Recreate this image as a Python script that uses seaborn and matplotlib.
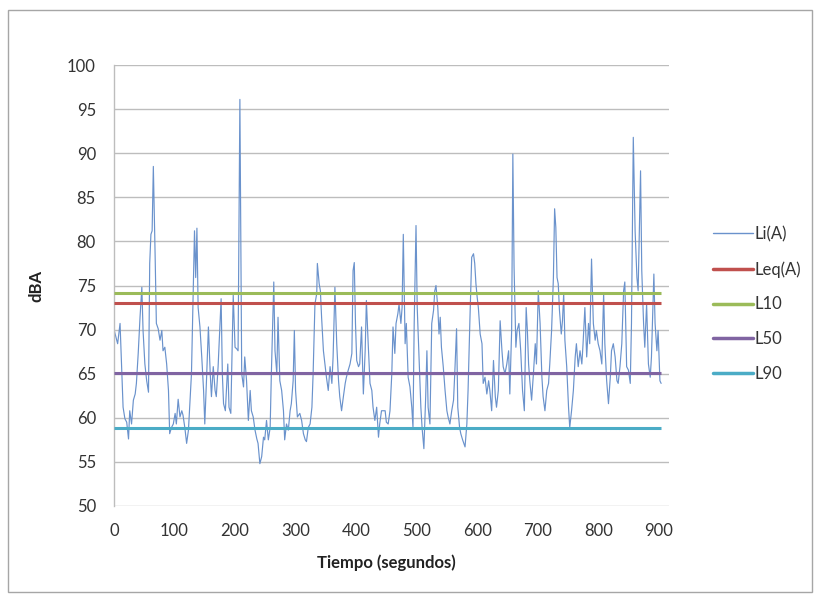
import matplotlib
matplotlib.use("Agg")
import matplotlib.pyplot as plt
import seaborn as sns
import pandas as pd
from matplotlib.lines import Line2D
from matplotlib.patches import Rectangle

# Nivel instantaneo Li(A), vertices (segundos, dBA)
tiempo = [0, 6, 10, 12, 15, 18, 21, 24, 26, 29, 32, 35, 37, 40, 43, 46, 47, 48, 51, 54,
          57, 59, 61, 63, 65, 68, 70, 73, 76, 79, 81, 84, 87, 90, 92, 95, 98, 101, 103, 106,
          109, 112, 114, 117, 120, 123, 125, 128, 131, 133, 135, 137, 139, 142, 145, 148, 150, 153, 156, 159,
          161, 164, 167, 169, 172, 177, 179, 181, 184, 188, 190, 193, 197, 200, 203, 205, 208, 211, 214, 216,
          219, 222, 225, 227, 230, 233, 236, 238, 241, 244, 247, 249, 252, 255, 258, 260, 264, 266, 269, 271,
          274, 277, 280, 282, 285, 288, 291, 293, 296, 298, 300, 303, 307, 310, 313, 316, 318, 321, 324, 327,
          329, 332, 335, 336, 339, 341, 343, 346, 349, 351, 354, 357, 360, 362, 365, 368, 371, 373, 376, 379,
          382, 384, 387, 390, 393, 395, 397, 399, 401, 404, 406, 409, 412, 415, 417, 420, 423, 426, 428, 431,
          434, 437, 439, 442, 448, 450, 453, 456, 459, 461, 464, 466, 469, 471, 474, 476, 478, 481, 483, 486,
          489, 492, 494, 496, 499, 501, 504, 507, 509, 512, 515, 517, 519, 522, 525, 528, 530, 532, 535, 537,
          539, 541, 544, 547, 550, 552, 555, 558, 561, 563, 566, 568, 571, 573, 576, 580, 583, 585, 588, 591,
          594, 596, 598, 600, 602, 605, 608, 610, 613, 616, 619, 621, 624, 627, 630, 632, 635, 638, 641, 643,
          646, 649, 652, 654, 657, 659, 661, 664, 666, 669, 672, 675, 678, 681, 683, 685, 687, 690, 693, 696,
          698, 701, 704, 707, 709, 712, 715, 718, 720, 723, 726, 728, 730, 732, 734, 736, 739, 741, 743, 745,
          748, 751, 753, 756, 759, 762, 764, 767, 770, 773, 775, 778, 781, 784, 786, 789, 792, 795, 797, 800,
          803, 806, 809, 811, 814, 817, 820, 822, 825, 828, 831, 833, 836, 839, 842, 844, 847, 850, 853, 855,
          858, 861, 864, 866, 870, 872, 875, 877, 880, 883, 886, 888, 892, 894, 897, 899, 902, 904]
li_a = [70.0, 68.4, 70.7, 66.9, 61.2, 59.9, 59.5, 57.6, 60.8, 59.3, 62.0, 62.7, 63.9, 67.3, 71.4, 74.8, 72.5, 69.9, 66.1, 64.2,
        62.9, 77.5, 80.8, 81.2, 88.5, 78.2, 70.7, 70.1, 68.8, 69.9, 67.6, 68.0, 66.1, 63.1, 58.2, 58.9, 59.3, 60.5, 59.3, 62.1,
        60.1, 60.8, 60.3, 58.9, 57.1, 58.6, 61.2, 65.0, 74.4, 81.2, 75.9, 81.5, 72.5, 70.3, 66.9, 63.1, 59.3, 64.6, 70.3, 65.0,
        62.4, 65.8, 63.1, 62.4, 65.8, 73.5, 65.0, 61.6, 60.8, 66.1, 61.2, 60.5, 73.9, 68.0, 67.8, 67.6, 96.1, 65.0, 63.5, 66.9,
        64.2, 59.7, 63.1, 60.8, 60.1, 58.6, 57.6, 57.1, 54.8, 55.6, 57.8, 57.5, 59.7, 57.5, 58.9, 65.0, 75.4, 67.6, 65.0, 71.4,
        64.2, 63.1, 60.8, 57.5, 59.3, 58.6, 60.8, 61.6, 64.2, 69.9, 63.1, 60.1, 60.5, 59.7, 58.2, 57.5, 57.3, 58.9, 59.3, 61.2,
        65.0, 72.9, 74.1, 77.5, 75.2, 74.4, 71.4, 67.6, 65.8, 64.6, 63.1, 65.8, 63.9, 66.9, 74.8, 68.4, 64.2, 62.4, 60.8, 62.4,
        63.9, 64.6, 65.4, 66.1, 67.3, 76.7, 77.6, 70.7, 66.5, 65.8, 66.1, 70.3, 62.7, 67.6, 73.3, 68.4, 63.9, 63.1, 61.2, 59.7,
        61.2, 57.8, 59.3, 60.8, 60.8, 59.5, 59.3, 60.8, 65.0, 70.3, 67.3, 70.7, 71.8, 72.9, 70.7, 72.5, 80.8, 68.4, 70.7, 64.6,
        63.5, 61.2, 58.9, 70.7, 81.8, 72.5, 66.9, 61.2, 58.9, 56.5, 62.4, 67.6, 61.2, 59.3, 70.7, 72.2, 74.4, 75.0, 72.5, 69.5,
        71.4, 68.0, 65.8, 63.1, 60.8, 60.1, 59.3, 60.8, 62.0, 65.0, 70.1, 61.2, 58.9, 58.2, 57.5, 56.7, 59.3, 63.1, 71.0, 78.2,
        78.6, 77.5, 75.2, 73.7, 72.5, 69.5, 68.4, 63.9, 64.6, 62.7, 64.2, 63.1, 60.8, 66.5, 62.4, 61.2, 63.1, 71.0, 67.6, 65.8,
        65.0, 66.1, 67.6, 62.7, 69.9, 89.9, 77.1, 68.0, 69.9, 70.7, 67.6, 63.1, 60.8, 72.5, 69.9, 66.1, 64.2, 62.0, 65.0, 68.4,
        66.1, 74.4, 70.7, 64.6, 62.4, 60.8, 63.1, 63.9, 66.1, 69.9, 75.9, 83.7, 81.6, 75.9, 75.2, 72.2, 69.5, 71.0, 74.1, 68.8,
        65.8, 61.2, 58.9, 60.8, 63.1, 66.9, 68.4, 65.8, 67.6, 66.1, 68.4, 72.5, 66.9, 70.7, 68.4, 78.0, 70.7, 68.8, 69.9, 68.4,
        67.6, 66.1, 74.1, 68.4, 64.2, 61.6, 64.6, 67.6, 68.4, 66.9, 64.2, 63.9, 65.8, 68.4, 74.4, 75.4, 65.8, 65.4, 63.9, 70.7,
        91.8, 81.2, 75.9, 74.4, 88.0, 76.7, 70.7, 68.0, 72.9, 66.1, 64.6, 66.9, 76.3, 70.7, 67.6, 69.9, 64.2, 63.9]

# Niveles estadisticos
niveles = ["Leq(A)", "L10", "L50", "L90"]
valores_niveles = [73.0, 74.1, 65.1, 58.9]
colores_niveles = ["#C0504D", "#9BBB59", "#8064A2", "#4BACC6"]

xticks = list(range(0, 1000, 100))
yticks = list(range(50, 105, 5))

sns.set_theme(style="white")
plt.rcParams["font.family"] = ["Lato", "DejaVu Sans"]

fig = plt.figure(figsize=(8.21, 5.94), dpi=100)
ax = fig.add_axes([114 / 821, 1 - 506 / 594, 555 / 821, 441 / 594])

df = pd.DataFrame({"tiempo": tiempo, "Li(A)": li_a})
sns.lineplot(data=df, x="tiempo", y="Li(A)", ax=ax, color="#6A92CC",
             linewidth=0.85, estimator=None, sort=False)

for nombre, v, c in zip(niveles, valores_niveles, colores_niveles):
    ax.hlines(v, tiempo[0], tiempo[-1], color=c, linewidth=2.2, zorder=3)

ax.set_xlim(0, 917)
ax.set_ylim(50, 100)
ax.set_xticks(xticks)
ax.set_yticks(yticks)
ax.yaxis.grid(True, color="#BDBDBD", linewidth=1)
ax.xaxis.grid(False)
ax.set_axisbelow(True)
for s in ["top", "right", "bottom"]:
    ax.spines[s].set_visible(False)
ax.spines["left"].set_color("#BDBDBD")
ax.spines["left"].set_linewidth(1)
ax.tick_params(axis="both", length=0, labelsize=12, labelcolor="#333333")
ax.tick_params(axis="x", pad=12)
ax.tick_params(axis="y", pad=13)

ax.set_xlabel("Tiempo (segundos)", fontsize=12, fontweight="bold", color="#222222")
ax.set_ylabel("dBA", fontsize=12, fontweight="bold", color="#222222")
ax.xaxis.set_label_coords(0.49, -0.11)
ax.yaxis.set_label_coords(-0.125, 0.5)

handles = [Line2D([0], [0], color="#6A92CC", linewidth=1)]
handles += [Line2D([0], [0], color=c, linewidth=2.5) for c in colores_niveles]
fig.legend(handles, ["Li(A)"] + niveles, loc="upper left",
           bbox_to_anchor=(713 / 821, 1 - 226 / 594), frameon=False,
           fontsize=12, handlelength=2.4, handletextpad=0.1,
           labelspacing=1.13, borderpad=0, borderaxespad=0,
           labelcolor="#333333")

fig.patches.append(Rectangle((8 / 821, 2 / 594), 804 / 821, 582 / 594,
                             transform=fig.transFigure, fill=False,
                             edgecolor="#A6A6A6", linewidth=1))

fig.savefig("out.png", dpi=100, facecolor="white")
